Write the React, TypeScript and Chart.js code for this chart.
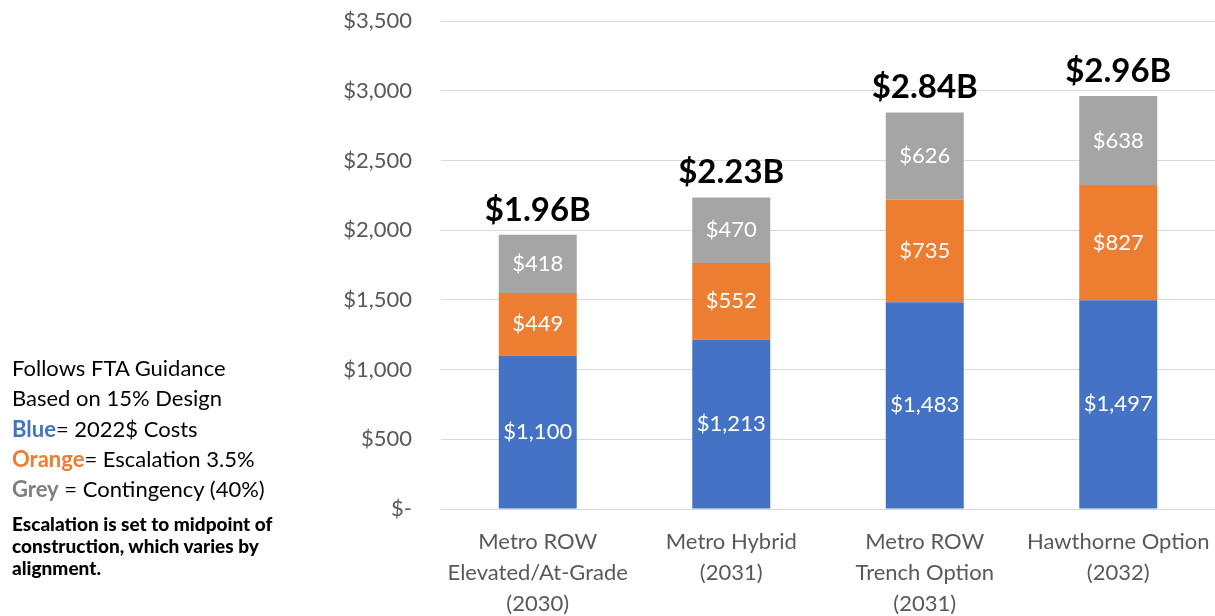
import React, { useEffect, useRef } from "react";
import { Chart, registerables } from "chart.js";

Chart.register(...registerables);

const categories: string[][] = [
  ["Metro ROW", "Elevated/At-Grade", "(2030)"],
  ["Metro Hybrid", "(2031)"],
  ["Metro ROW", "Trench Option", "(2031)"],
  ["Hawthorne Option", "(2032)"],
];
const baseCosts = [1100, 1213, 1483, 1497];
const escalation = [449, 552, 735, 827];
const contingency = [418, 470, 626, 638];
const totalLabels = ["$1.96B", "$2.23B", "$2.84B", "$2.96B"];
const yTicks = [0, 500, 1000, 1500, 2000, 2500, 3000, 3500];

const FONT = "Lato, 'Open Sans', sans-serif";

const fmt = (v: number) => (v === 0 ? "$-" : "$" + v.toLocaleString("en-US"));

const labelPlugin = {
  id: "stackLabels",
  afterDatasetsDraw(chart: any) {
    const ctx = chart.ctx;
    const yScale = chart.scales.y;
    ctx.save();
    ctx.textAlign = "center";
    ctx.textBaseline = "middle";
    ctx.font = `22px ${FONT}`;
    ctx.fillStyle = "#ffffff";
    chart.data.datasets.forEach((ds: any, di: number) => {
      const meta = chart.getDatasetMeta(di);
      meta.data.forEach((bar: any, i: number) => {
        const v = ds.data[i];
        const yc = (bar.y + bar.base) / 2;
        ctx.fillText(fmt(v), bar.x, yc);
      });
    });
    ctx.font = `bold 33px ${FONT}`;
    ctx.fillStyle = "#000000";
    ctx.textBaseline = "alphabetic";
    const meta0 = chart.getDatasetMeta(0);
    totalLabels.forEach((t, i) => {
      const sum = baseCosts[i] + escalation[i] + contingency[i];
      const y = yScale.getPixelForValue(sum);
      ctx.fillText(t, meta0.data[i].x, y - 14);
    });
    ctx.restore();
  },
};

export default function App() {
  const ref = useRef<HTMLCanvasElement | null>(null);
  useEffect(() => {
    if (!ref.current) return;
    const chart = new Chart(ref.current, {
      type: "bar",
      data: {
        labels: categories,
        datasets: [
          { label: "2022$ Costs", data: baseCosts, backgroundColor: "#4472C4" },
          { label: "Escalation", data: escalation, backgroundColor: "#ED7D31" },
          { label: "Contingency", data: contingency, backgroundColor: "#A5A5A5" },
        ],
      },
      options: {
        animation: false,
        responsive: false,
        maintainAspectRatio: false,
        layout: { padding: { left: 333, right: 0, top: 21, bottom: 0 } },
        datasets: { bar: { categoryPercentage: 1, barPercentage: 0.403 } },
        plugins: { legend: { display: false }, tooltip: { enabled: false } },
        scales: {
          x: {
            stacked: true,
            grid: {
              display: true,
              drawOnChartArea: false,
              drawTicks: true,
              tickLength: 18,
              tickColor: "rgba(0,0,0,0)",
            },
            border: { display: true, color: "#d9d9d9" },
            ticks: {
              padding: 0,
              color: "#595959",
              font: { family: FONT, size: 22, lineHeight: 1.4 },
              maxRotation: 0,
              autoSkip: false,
            },
            afterFit: (s: any) => {
              s.height = 107;
            },
          },
          y: {
            stacked: true,
            min: 0,
            max: 3500,
            afterBuildTicks: (s: any) => {
              s.ticks = yTicks.map((v) => ({ value: v }));
            },
            grid: { color: "#d9d9d9", drawTicks: true, tickLength: 29, tickColor: "rgba(0,0,0,0)" },
            border: { display: false },
            ticks: {
              padding: 0,
              color: "#595959",
              font: { family: FONT, size: 22 },
              callback: (v: any) => fmt(Number(v)),
            },
            afterFit: (s: any) => {
              s.width = 108;
            },
          },
        },
      },
      plugins: [labelPlugin],
    });
    return () => chart.destroy();
  }, []);

  return (
    <div style={{ position: "fixed", left: 0, top: 0, width: 1215, height: 616, background: "#fff" }}>
      <canvas ref={ref} width={1215} height={616} style={{ position: "absolute", left: 0, top: 0 }} />
      <div
        style={{
          position: "absolute",
          left: 12,
          top: 353,
          fontFamily: FONT,
          fontSize: 22,
          lineHeight: "30.3px",
          color: "#000",
          whiteSpace: "nowrap",
        }}
      >
        <div>Follows FTA Guidance</div>
        <div>Based on 15% Design</div>
        <div>
          <b style={{ color: "#4472C4" }}>Blue</b>= 2022$ Costs
        </div>
        <div>
          <b style={{ color: "#ED7D31" }}>Orange</b>= Escalation 3.5%
        </div>
        <div>
          <b style={{ color: "#7F7F7F" }}>Grey</b> = Contingency (40%)
        </div>
      </div>
      <div
        style={{
          position: "absolute",
          left: 12,
          top: 513,
          fontFamily: FONT,
          fontSize: 19,
          fontWeight: 900,
          lineHeight: "22px",
          color: "#000",
          whiteSpace: "nowrap",
        }}
      >
        <div>Escalation is set to midpoint of</div>
        <div>construction, which varies by</div>
        <div>alignment.</div>
      </div>
    </div>
  );
}
